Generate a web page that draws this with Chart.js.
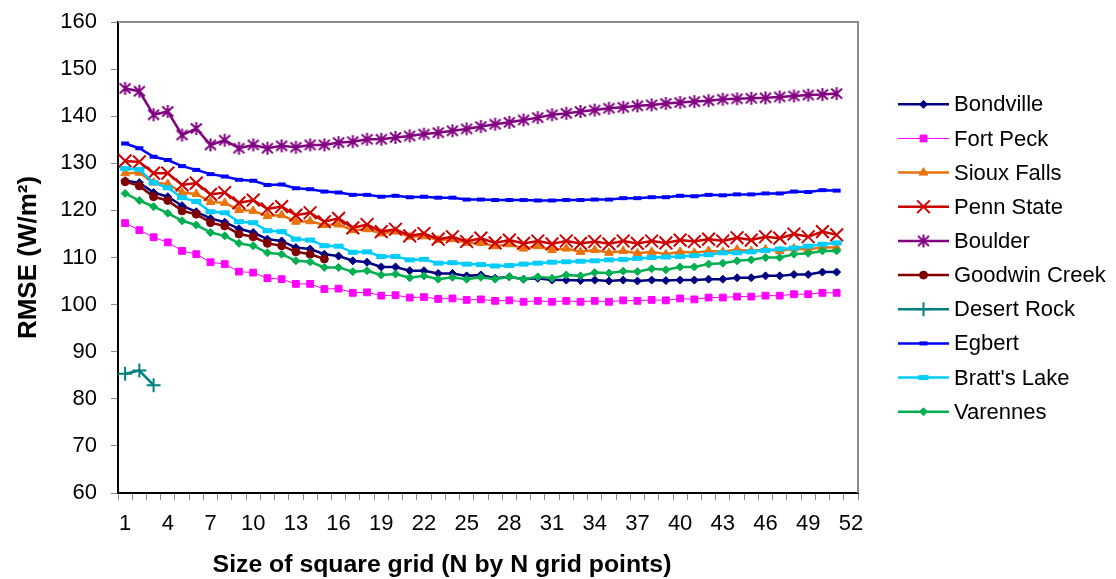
<!DOCTYPE html>
<html>
<head>
<meta charset="utf-8">
<title>RMSE by grid size</title>
<script src="https://cdn.jsdelivr.net/npm/chart.js@4.4.1/dist/chart.umd.min.js"></script>
<style>
  html, body { margin: 0; padding: 0; background: #fff; }
  canvas { display: block; }
</style>
</head>
<body>
<canvas id="rmseChart" width="1116" height="579"></canvas>
<script>
// grid size N (N by N grid points) - category labels, every 3rd one is shown
const gridLabels = ['1','2','3','4','5','6','7','8','9','10','11','12','13','14','15','16','17','18','19','20',
  '21','22','23','24','25','26','27','28','29','30','31','32','33','34','35','36','37','38','39','40',
  '41','42','43','44','45','46','47','48','49','50','51','52'];

const yTicks = { min: 60, max: 160, step: 10 };

// RMSE (W/m2) per station
const bondville = [126.3,125.9,123.8,122.9,121.0,119.7,118.3,117.5,116.1,115.3,113.9,113.5,112.1,111.8,110.7,110.3,109.3,109.0,108.0,108.0,
  107.2,107.2,106.6,106.6,106.1,106.3,105.6,105.9,105.4,105.6,105.2,105.2,105.1,105.2,105.0,105.2,105.0,105.2,105.1,105.2,
  105.2,105.4,105.4,105.7,105.7,106.1,106.1,106.4,106.4,106.9,106.9];
const fortPeck = [117.3,115.8,114.3,113.2,111.4,110.7,109.0,108.6,107.0,106.8,105.6,105.4,104.4,104.4,103.3,103.4,102.5,102.6,101.9,102.0,
  101.5,101.6,101.2,101.3,101.0,101.1,100.8,100.9,100.6,100.8,100.6,100.8,100.6,100.8,100.6,100.9,100.8,101.0,100.9,101.3,
  101.1,101.5,101.5,101.7,101.7,101.9,101.9,102.2,102.2,102.5,102.5];
const siouxFalls = [127.9,128.0,125.9,125.6,123.8,123.5,121.8,121.6,120.1,119.9,118.8,119.0,117.6,117.7,116.9,117.0,115.8,116.0,115.1,115.5,
  114.4,114.5,113.7,113.9,113.1,113.1,112.4,112.8,111.9,112.4,111.6,111.9,111.2,111.6,111.0,111.4,110.9,111.2,110.7,111.2,
  111.0,111.4,111.2,111.7,111.4,111.7,111.4,111.9,111.7,112.2,112.1];
const pennState = [130.5,130.3,127.9,127.9,125.4,125.8,123.4,123.8,121.6,122.2,120.3,120.8,119.0,119.5,117.6,118.3,116.3,117.0,115.5,116.0,
  114.6,115.1,113.9,114.4,113.4,114.1,113.1,113.7,113.0,113.5,112.9,113.5,113.0,113.4,112.9,113.5,113.0,113.5,113.1,113.7,
  113.4,113.9,113.5,114.2,113.7,114.4,114.1,115.0,114.4,115.5,114.8];
const boulder = [145.9,145.3,140.3,141.0,136.0,137.4,133.9,134.9,133.2,133.9,133.2,133.7,133.4,133.9,133.9,134.4,134.6,135.1,135.1,135.5,
  135.8,136.2,136.5,136.9,137.3,137.8,138.3,138.7,139.2,139.7,140.3,140.6,141.0,141.3,141.7,141.9,142.2,142.4,142.7,142.9,
  143.1,143.3,143.6,143.7,143.8,143.9,144.1,144.3,144.5,144.6,144.8];
const goodwinCreek = [126.1,125.2,122.9,122.1,119.9,119.2,117.4,116.7,115.0,114.4,113.0,112.5,111.2,110.7,109.7];
const desertRock = [85.3,86.0,82.9];
const egbert = [134.2,133.2,131.4,130.7,129.4,128.6,127.7,127.2,126.5,126.3,125.4,125.5,124.7,124.5,124.0,123.8,123.3,123.3,122.9,123.1,
  122.8,122.9,122.7,122.7,122.3,122.3,122.2,122.2,122.2,122.1,122.1,122.2,122.2,122.3,122.3,122.6,122.6,122.8,122.8,123.1,
  123.0,123.3,123.2,123.4,123.4,123.6,123.6,124.0,123.9,124.3,124.2];
const brattsLake = [128.9,128.7,125.9,124.8,122.7,121.9,119.7,119.5,117.6,117.4,115.7,115.5,113.9,113.7,112.5,112.4,111.1,111.2,110.2,110.2,
  109.5,109.6,108.8,108.9,108.6,108.5,108.2,108.3,108.6,108.8,109.0,109.1,109.2,109.3,109.5,109.6,109.8,110.0,110.1,110.2,
  110.4,110.6,111.0,111.0,111.2,111.5,111.8,112.0,112.4,112.8,113.1];
const varennes = [123.6,122.1,120.8,119.4,117.8,116.9,115.3,114.6,113.0,112.5,111.0,110.7,109.3,109.1,107.9,107.9,107.0,107.2,106.3,106.5,
  105.7,106.1,105.4,105.8,105.4,105.8,105.4,105.9,105.4,105.9,105.6,106.3,106.1,106.8,106.7,107.1,107.0,107.6,107.4,108.0,
  108.0,108.6,108.8,109.3,109.5,110.0,110.0,110.7,110.9,111.4,111.4];

const FONT = '"Liberation Sans", Arial, sans-serif';

// Excel style star marker: an X with a vertical bar through it
function starMarker(color) {
  const c = document.createElement('canvas');
  c.width = 15;
  c.height = 15;
  const g = c.getContext('2d');
  g.strokeStyle = color;
  g.lineWidth = 2;
  g.beginPath();
  g.moveTo(7.5, 1); g.lineTo(7.5, 14);
  g.moveTo(2, 2.5); g.lineTo(13, 12.5);
  g.moveTo(13, 2.5); g.lineTo(2, 12.5);
  g.stroke();
  return c;
}

// name, data, colour, line width, marker style, marker radius, marker border
const seriesDefs = [
  ['Bondville',     bondville,    '#000080', 2.5, 'rectRot',  4,   1],
  ['Fort Peck',     fortPeck,     '#FF00FF', 1,   'rect',     4.8, 1],
  ['Sioux Falls',   siouxFalls,   '#E8720C', 2.5, 'triangle', 5,   1],
  ['Penn State',    pennState,    '#CC0000', 2.5, 'crossRot', 9,   2],
  ['Boulder',       boulder,      '#800080', 2.5, starMarker('#800080'), 7.5, 2],
  ['Goodwin Creek', goodwinCreek, '#800000', 2.5, 'circle',   4,   1],
  ['Desert Rock',   desertRock,   '#008080', 2.5, 'cross',    7,   2],
  ['Egbert',        egbert,       '#0000FF', 2.5, 'line',     4,   4],
  ["Bratt's Lake",  brattsLake,   '#00CCFF', 2.5, 'line',     5,   5],
  ['Varennes',      varennes,     '#00B050', 2.5, 'rectRot',  4,   1]
];

const datasets = seriesDefs.map((s, i) => ({
  label: s[0],
  data: s[1],
  borderColor: s[2],
  backgroundColor: s[2],
  borderWidth: s[3],
  pointStyle: s[4],
  pointRadius: s[5],
  pointHoverRadius: s[5],
  pointBorderWidth: s[6],
  pointBackgroundColor: s[2],
  pointBorderColor: s[2],
  tension: 0,
  fill: false,
  order: seriesDefs.length - i   // later series on top, like the original
}));

// plot frame (gray top/right), legend and x title
const decorations = {
  id: 'decorations',
  beforeDatasetsDraw(chart) {
    const { ctx, chartArea: a } = chart;
    ctx.save();
    ctx.strokeStyle = '#8c8c8c';
    ctx.lineWidth = 2;
    ctx.beginPath();
    ctx.moveTo(a.left, a.top);
    ctx.lineTo(a.right, a.top);
    ctx.lineTo(a.right, a.bottom);
    ctx.stroke();
    ctx.restore();
  },
  afterDraw(chart) {
    const { ctx } = chart;
    ctx.save();
    ctx.fillStyle = '#000';
    ctx.font = 'bold 24.8px ' + FONT;
    ctx.textAlign = 'center';
    ctx.textBaseline = 'middle';
    ctx.fillText('Size of square grid (N by N grid points)', 442, 565);

    const x0 = 898, x1 = 949, top = 104.3, gap = 34.16;
    ctx.font = '22px ' + FONT;
    ctx.textAlign = 'left';
    seriesDefs.forEach((s, k) => {
      const y = top + k * gap;
      ctx.strokeStyle = s[2];
      ctx.fillStyle = s[2];
      ctx.lineWidth = s[3];
      ctx.beginPath();
      ctx.moveTo(x0, y);
      ctx.lineTo(x1, y);
      ctx.stroke();
      if (Chart.helpers && Chart.helpers.drawPoint) {
        ctx.lineWidth = s[6];
        Chart.helpers.drawPoint(ctx, { pointStyle: s[4], radius: s[5], borderWidth: s[6], rotation: 0 }, (x0 + x1) / 2, y);
      }
      ctx.fillStyle = '#000';
      ctx.fillText(s[0], 954, y + 1);
    });
    ctx.restore();
  }
};

new Chart(document.getElementById('rmseChart'), {
  type: 'line',
  data: { labels: gridLabels, datasets: datasets },
  options: {
    responsive: false,
    animation: false,
    events: [],
    layout: { padding: { left: 0, top: 22, right: 258, bottom: 0 } },
    plugins: { legend: { display: false }, tooltip: { enabled: false } },
    scales: {
      x: {
        type: 'category',
        offset: true,
        grid: { offset: true, drawOnChartArea: false, drawTicks: true, tickLength: 7, color: '#8c8c8c' },
        border: { color: '#000', width: 2 },
        ticks: {
          autoSkip: false,
          maxRotation: 0,
          padding: 11,
          color: '#000',
          font: { family: FONT, size: 22 },
          callback: (val, idx) => (idx % 3 === 0 ? gridLabels[idx] : '')
        },
        // fixed plot frame: 118..858 x 22..493
        afterFit: s => { s.height = 86; s.paddingLeft = 0; s.paddingRight = 0; }
      },
      y: {
        min: yTicks.min,
        max: yTicks.max,
        grid: { drawOnChartArea: false, drawTicks: true, tickLength: 7, color: '#8c8c8c' },
        border: { color: '#000', width: 2 },
        ticks: { stepSize: yTicks.step, padding: 14, color: '#000', font: { family: FONT, size: 22 } },
        title: {
          display: true,
          text: 'RMSE (W/m²)',
          color: '#000',
          font: { family: FONT, size: 26, weight: 'bold' },
          padding: { top: 13, bottom: 0 }
        },
        afterFit: s => { s.width = 118; s.paddingTop = 0; s.paddingBottom = 0; }
      }
    }
  },
  plugins: [decorations]
});
</script>
</body>
</html>
